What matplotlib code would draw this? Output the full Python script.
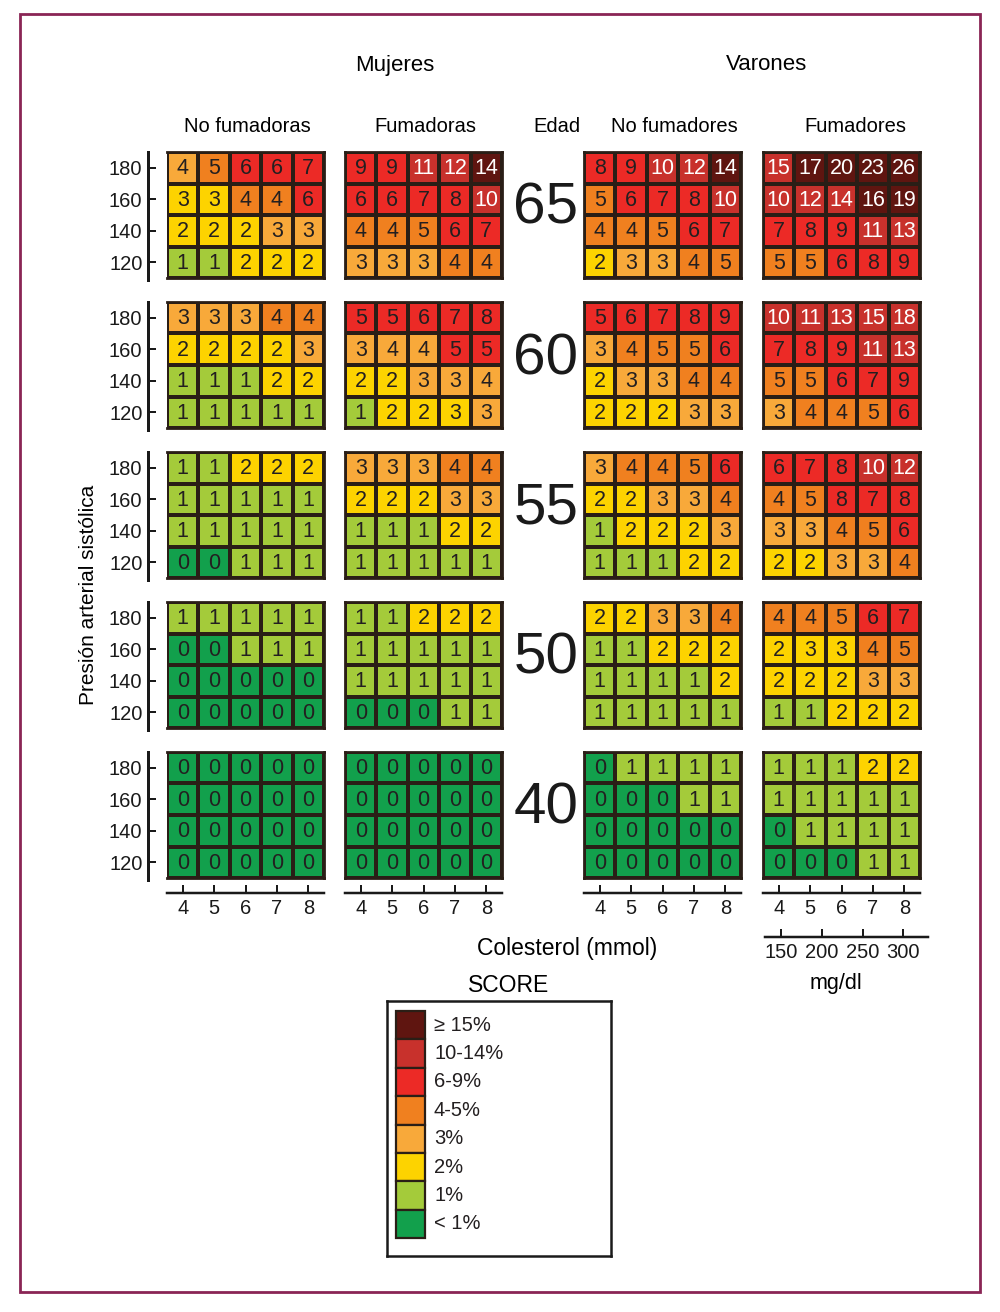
import numpy as np
import matplotlib
matplotlib.use("Agg")
import matplotlib.pyplot as plt
from matplotlib.colors import ListedColormap, BoundaryNorm
from matplotlib.patches import Rectangle

plt.rcParams['font.family'] = ['Liberation Sans', 'DejaVu Sans']

# ---------------- data ----------------
ages = [65, 60, 55, 50, 40]
sbp_labels = [180, 160, 140, 120]          # rows, top to bottom
chol_mmol = [4, 5, 6, 7, 8]                # columns
mgdl_ticks = [150, 200, 250, 300]
group_titles = ["No fumadoras", "Fumadoras", "No fumadores", "Fumadores"]
sex_titles = ["Mujeres", "Varones"]
legend_labels = ["≥ 15%", "10-14%", "6-9%", "4-5%", "3%", "2%", "1%", "< 1%"]
level_colors = ['#12A04C', '#A4CB3A', '#FDD300', '#F8A93A', '#F0801F',
                '#EC2A26', '#C8312C', '#5F1510']

# displayed SCORE values (per age: rows 180,160,140,120; columns chol 4..8)
vals_w_ns = [
    [[4, 5, 6, 6, 7], [3, 3, 4, 4, 6], [2, 2, 2, 3, 3], [1, 1, 2, 2, 2]],
    [[3, 3, 3, 4, 4], [2, 2, 2, 2, 3], [1, 1, 1, 2, 2], [1, 1, 1, 1, 1]],
    [[1, 1, 2, 2, 2], [1, 1, 1, 1, 1], [1, 1, 1, 1, 1], [0, 0, 1, 1, 1]],
    [[1, 1, 1, 1, 1], [0, 0, 1, 1, 1], [0, 0, 0, 0, 0], [0, 0, 0, 0, 0]],
    [[0, 0, 0, 0, 0], [0, 0, 0, 0, 0], [0, 0, 0, 0, 0], [0, 0, 0, 0, 0]],
]
vals_w_s = [
    [[9, 9, 11, 12, 14], [6, 6, 7, 8, 10], [4, 4, 5, 6, 7], [3, 3, 3, 4, 4]],
    [[5, 5, 6, 7, 8], [3, 4, 4, 5, 5], [2, 2, 3, 3, 4], [1, 2, 2, 3, 3]],
    [[3, 3, 3, 4, 4], [2, 2, 2, 3, 3], [1, 1, 1, 2, 2], [1, 1, 1, 1, 1]],
    [[1, 1, 2, 2, 2], [1, 1, 1, 1, 1], [1, 1, 1, 1, 1], [0, 0, 0, 1, 1]],
    [[0, 0, 0, 0, 0], [0, 0, 0, 0, 0], [0, 0, 0, 0, 0], [0, 0, 0, 0, 0]],
]
vals_m_ns = [
    [[8, 9, 10, 12, 14], [5, 6, 7, 8, 10], [4, 4, 5, 6, 7], [2, 3, 3, 4, 5]],
    [[5, 6, 7, 8, 9], [3, 4, 5, 5, 6], [2, 3, 3, 4, 4], [2, 2, 2, 3, 3]],
    [[3, 4, 4, 5, 6], [2, 2, 3, 3, 4], [1, 2, 2, 2, 3], [1, 1, 1, 2, 2]],
    [[2, 2, 3, 3, 4], [1, 1, 2, 2, 2], [1, 1, 1, 1, 2], [1, 1, 1, 1, 1]],
    [[0, 1, 1, 1, 1], [0, 0, 0, 1, 1], [0, 0, 0, 0, 0], [0, 0, 0, 0, 0]],
]
vals_m_s = [
    [[15, 17, 20, 23, 26], [10, 12, 14, 16, 19], [7, 8, 9, 11, 13], [5, 5, 6, 8, 9]],
    [[10, 11, 13, 15, 18], [7, 8, 9, 11, 13], [5, 5, 6, 7, 9], [3, 4, 4, 5, 6]],
    [[6, 7, 8, 10, 12], [4, 5, 8, 7, 8], [3, 3, 4, 5, 6], [2, 2, 3, 3, 4]],
    [[4, 4, 5, 6, 7], [2, 3, 3, 4, 5], [2, 2, 2, 3, 3], [1, 1, 2, 2, 2]],
    [[1, 1, 1, 2, 2], [1, 1, 1, 1, 1], [0, 1, 1, 1, 1], [0, 0, 0, 1, 1]],
]

# colour category of each cell (0 = <1%, 1 = 1%, 2 = 2%, 3 = 3%, 4 = 4-5%,
# 5 = 6-9%, 6 = 10-14%, 7 = >=15%), as printed in the chart
lvl_w_ns = [
    [[3, 4, 5, 5, 5], [2, 2, 4, 4, 5], [2, 2, 2, 3, 3], [1, 1, 2, 2, 2]],
    [[3, 3, 3, 4, 4], [2, 2, 2, 2, 3], [1, 1, 1, 2, 2], [1, 1, 1, 1, 1]],
    [[1, 1, 2, 2, 2], [1, 1, 1, 1, 1], [1, 1, 1, 1, 1], [0, 0, 1, 1, 1]],
    [[1, 1, 1, 1, 1], [0, 0, 1, 1, 1], [0, 0, 0, 0, 0], [0, 0, 0, 0, 0]],
    [[0, 0, 0, 0, 0], [0, 0, 0, 0, 0], [0, 0, 0, 0, 0], [0, 0, 0, 0, 0]],
]
lvl_w_s = [
    [[5, 5, 6, 6, 7], [5, 5, 5, 5, 6], [4, 4, 4, 5, 5], [3, 3, 3, 4, 4]],
    [[5, 5, 5, 5, 5], [3, 3, 3, 5, 5], [2, 2, 3, 3, 3], [1, 2, 2, 2, 3]],
    [[3, 3, 3, 4, 4], [2, 2, 2, 3, 3], [1, 1, 1, 2, 2], [1, 1, 1, 1, 1]],
    [[1, 1, 2, 2, 2], [1, 1, 1, 1, 1], [1, 1, 1, 1, 1], [0, 0, 0, 1, 1]],
    [[0, 0, 0, 0, 0], [0, 0, 0, 0, 0], [0, 0, 0, 0, 0], [0, 0, 0, 0, 0]],
]
lvl_m_ns = [
    [[5, 5, 6, 6, 7], [4, 5, 5, 5, 6], [4, 4, 4, 5, 5], [2, 3, 3, 4, 4]],
    [[5, 5, 5, 5, 5], [3, 4, 4, 4, 5], [2, 3, 3, 4, 4], [2, 2, 2, 3, 3]],
    [[3, 4, 4, 4, 5], [2, 2, 3, 3, 4], [1, 2, 2, 2, 3], [1, 1, 1, 2, 2]],
    [[2, 2, 3, 3, 4], [1, 1, 2, 2, 2], [1, 1, 1, 1, 2], [1, 1, 1, 1, 1]],
    [[0, 1, 1, 1, 1], [0, 0, 0, 1, 1], [0, 0, 0, 0, 0], [0, 0, 0, 0, 0]],
]
lvl_m_s = [
    [[6, 7, 7, 7, 7], [6, 6, 6, 7, 7], [5, 5, 5, 6, 6], [4, 4, 5, 5, 5]],
    [[6, 6, 6, 6, 6], [5, 5, 5, 6, 6], [4, 4, 5, 5, 5], [3, 4, 4, 4, 5]],
    [[5, 5, 5, 6, 6], [4, 4, 5, 5, 5], [3, 3, 4, 4, 5], [2, 2, 3, 3, 4]],
    [[4, 4, 4, 5, 5], [2, 2, 2, 4, 4], [2, 2, 2, 3, 3], [1, 1, 2, 2, 2]],
    [[1, 1, 1, 2, 2], [1, 1, 1, 1, 1], [0, 1, 1, 1, 1], [0, 0, 0, 1, 1]],
]

group_vals = [vals_w_ns, vals_w_s, vals_m_ns, vals_m_s]
group_lvls = [lvl_w_ns, lvl_w_s, lvl_m_ns, lvl_m_s]

# ---------------- layout (pixels) ----------------
W, H = 1000, 1312
fig = plt.figure(figsize=(W / 100, H / 100), dpi=100)
fig.patch.set_facecolor('white')
PT = 72 / 100  # points per pixel

def rect(x0, y0, w, h):
    return [x0 / W, 1 - (y0 + h) / H, w / W, h / H]

col_x = [167, 345, 584, 763]
row_y = [152, 302, 452, 602, 752]
pw, ph = 157, 126

cmap = ListedColormap(level_colors)
norm = BoundaryNorm(np.arange(-0.5, 8.5, 1), cmap.N)
edge = '#2A1E16'
txt_dark = '#231F20'
axis_col = '#1a1a1a'
tick_kw = dict(direction='in', length=8 * PT, width=2 * PT, labelsize=14.5,
               pad=4, colors=axis_col)

for r, age in enumerate(ages):
    for c in range(4):
        ax = fig.add_axes(rect(col_x[c], row_y[r], pw, ph))
        lv = np.array(group_lvls[c][r])[::-1]      # bottom row = 120
        vv = np.array(group_vals[c][r])[::-1]
        ax.pcolormesh(np.arange(6), np.arange(5), lv, cmap=cmap, norm=norm,
                      edgecolors=edge, linewidth=1.6)
        for i in range(4):
            for j in range(5):
                ax.text(j + 0.5, i + 0.47, str(vv[i, j]), ha='center', va='center',
                        fontsize=15.5, color='white' if lv[i, j] >= 6 else txt_dark)
        ax.set_xlim(0, 5)
        ax.set_ylim(0, 4)
        for s in ax.spines.values():
            s.set_linewidth(2)
            s.set_color(edge)
        ax.set_xticks([])
        ax.set_yticks([])
        if c == 0:
            ax.spines['left'].set_position(('outward', 19 * PT))
            ax.spines['left'].set_bounds(-0.05, 4.0)
            ax.spines['left'].set_linewidth(3 * PT)
            ax.spines['left'].set_color(axis_col)
            ax.set_yticks(np.arange(4) + 0.5)
            ax.set_yticklabels(sbp_labels[::-1])
            ax.tick_params(axis='y', **tick_kw)
        if r == len(ages) - 1:
            sec = ax.secondary_xaxis(-0.12)
            sec.set_xticks(np.arange(5) + 0.5)
            sec.set_xticklabels(chol_mmol)
            sec.tick_params(**tick_kw)
            sec.spines['bottom'].set_linewidth(2.5 * PT)
            sec.spines['bottom'].set_color(axis_col)
            if c == 3:
                mg = ax.secondary_xaxis(
                    -0.47,
                    functions=(lambda x: (x + 3.3) * 38.6, lambda m: m / 38.6 - 3.3))
                mg.set_xticks(mgdl_ticks)
                mg.set_xticklabels(mgdl_ticks)
                mg.tick_params(**tick_kw)
                mg.spines['bottom'].set_linewidth(2.5 * PT)
                mg.spines['bottom'].set_color(axis_col)
                mg.spines['bottom'].set_bounds(130, 330)
    fig.text(546 / W, 1 - (row_y[r] + 57) / H, str(age), ha='center', va='center',
             fontsize=42, color=axis_col)

# headers
fig.text(395 / W, 1 - 65 / H, sex_titles[0], ha='center', va='center', fontsize=16)
fig.text(767 / W, 1 - 65 / H, sex_titles[1], ha='center', va='center', fontsize=16)
for cx, t in zip([247, 425, 674, 855], group_titles):
    fig.text(cx / W, 1 - 127 / H, t, ha='center', va='center', fontsize=14.5)
fig.text(557 / W, 1 - 127 / H, "Edad", ha='center', va='center', fontsize=14.5)

fig.text(88 / W, 1 - 595 / H, "Presión arterial sistólica", rotation=90,
         ha='center', va='center', fontsize=15)
fig.text(567 / W, 1 - 948 / H, "Colesterol (mmol)", ha='center', va='center', fontsize=16.5)
fig.text(509 / W, 1 - 985 / H, "SCORE", ha='center', va='center', fontsize=16.5)
fig.text(836 / W, 1 - 983 / H, "mg/dl", ha='center', va='center', fontsize=15.5)

# legend box
lax = fig.add_axes(rect(387, 1001, 224, 255))
lax.set_xlim(0, 224)
lax.set_ylim(8.13, -0.85)
lax.barh(np.arange(8), 29, left=9, height=1.0, color=level_colors[::-1],
         edgecolor=edge, linewidth=1.6)
for i, lab in enumerate(legend_labels):
    lax.text(47, i, lab, ha='left', va='center', fontsize=14.5, color=txt_dark)
lax.set_xticks([])
lax.set_yticks([])
for s in lax.spines.values():
    s.set_linewidth(1.8)
    s.set_color(axis_col)

# outer frame
fig.patches.append(Rectangle((20 / W, 1 - 1292 / H), 960 / W, 1278 / H,
                             transform=fig.transFigure, fill=False,
                             edgecolor='#8A2555', linewidth=2))

fig.savefig('out.png', dpi=100)
